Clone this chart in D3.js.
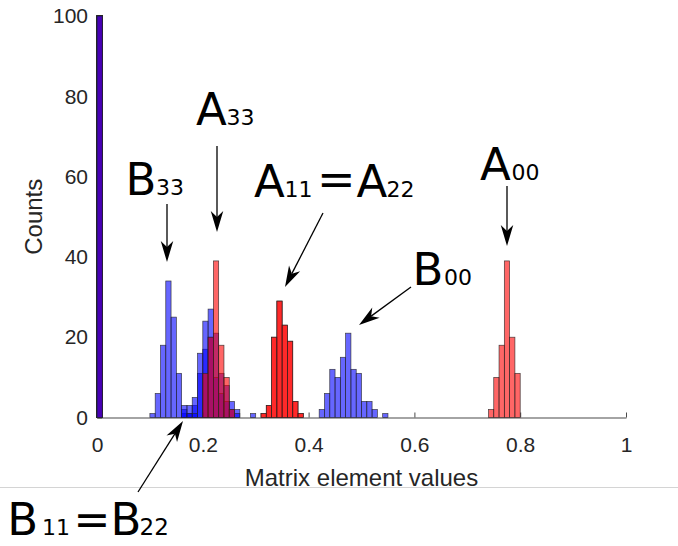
<!DOCTYPE html>
<html>
<head>
<meta charset="utf-8">
<script src="https://cdn.jsdelivr.net/npm/d3@7/dist/d3.min.js"></script>
<style>
  html, body { margin: 0; padding: 0; background: #fff; }
  svg { display: block; }
</style>
</head>
<body>
<script>
// ---------------- data ----------------
const binWidth = 0.01;
const xTicks = [0, 0.2, 0.4, 0.6, 0.8, 1];
const yTicks = [0, 20, 40, 60, 80, 100];
const xTickLabels = ["0", "0.2", "0.4", "0.6", "0.8", "1"];
const yTickLabels = ["0", "20", "40", "60", "80", "100"];

// off-diagonal elements: all samples fall in the first bin (value 0)
const offDiagStart = 0.0;
const offDiagCounts = [100];
const offDiagPerMatrix = 12;

const a00Start = 0.74;
const a00Counts = [2, 10, 18, 39, 20, 11];
const b00Start = 0.42;
const b00Counts = [2, 6, 12, 10, 15, 21, 12, 11, 4, 4, 2, 0, 1];
const a11Start = 0.31;
const a11Counts = [1, 3, 20, 29, 23, 19, 4, 1];
const a22Start = 0.31;
const a22Counts = [1, 3, 20, 29, 23, 19, 4, 1];
const b11Start = 0.16;
const b11Counts = [1, 1, 3, 11, 17, 20, 21, 11, 8, 4, 2, 0, 0, 1];
const b22Start = 0.16;
const b22Counts = [2, 3, 5, 16, 24, 27, 10, 6, 4, 2, 1];
const a33Start = 0.20;
const a33Counts = [11, 20, 39, 18, 10, 2];
const b33Start = 0.10;
const b33Counts = [1, 6, 18, 34, 25, 11, 3, 1, 1];

const colorA = "#ff0000";
const colorB = "#0000ff";

// ---------------- chart ----------------
const W = 678, H = 546;
const svg = d3.select("body").append("svg").attr("width", W).attr("height", H);

const x = d3.scaleLinear().domain([0, 1]).range([97, 626]);
const y = d3.scaleLinear().domain([0, 100]).range([417.5, 16]);

// separator line
svg.append("line").attr("x1", 0).attr("x2", W).attr("y1", 487.5).attr("y2", 487.5)
  .attr("stroke", "#d4d4d4").attr("stroke-width", 1);

// axes
const xAxis = svg.append("g").attr("transform", `translate(0,${y(0)})`)
  .call(d3.axisBottom(x).tickValues(xTicks).tickFormat((d, i) => xTickLabels[i])
    .tickSizeInner(-5).tickSizeOuter(0).tickPadding(19.6));
const yAxis = svg.append("g").attr("transform", `translate(${x(0)},0)`)
  .call(d3.axisLeft(y).tickValues(yTicks).tickFormat((d, i) => yTickLabels[i])
    .tickSizeInner(-5).tickSizeOuter(0).tickPadding(9));
[xAxis, yAxis].forEach(g => {
  g.selectAll("path.domain").attr("stroke", "#4a4a4a").attr("stroke-width", 1.1);
  g.selectAll(".tick line").attr("stroke", "#4a4a4a");
  g.selectAll(".tick text").attr("fill", "#262626")
    .style("font-family", "'Liberation Sans', Arial, sans-serif").style("font-size", "21px");
});

// series in plotting order
const series = [];
for (let k = 0; k < offDiagPerMatrix; k++) {
  series.push({ start: offDiagStart, counts: offDiagCounts, color: colorA });
  series.push({ start: offDiagStart, counts: offDiagCounts, color: colorB });
}
series.push({ start: a00Start, counts: a00Counts, color: colorA });
series.push({ start: b00Start, counts: b00Counts, color: colorB });
series.push({ start: a11Start, counts: a11Counts, color: colorA });
series.push({ start: b11Start, counts: b11Counts, color: colorB });
series.push({ start: a22Start, counts: a22Counts, color: colorA });
series.push({ start: b22Start, counts: b22Counts, color: colorB });
series.push({ start: a33Start, counts: a33Counts, color: colorA });
series.push({ start: b33Start, counts: b33Counts, color: colorB });

const barsG = svg.append("g");
series.forEach(s => {
  const bins = s.counts.map((c, i) => ({
    x0: s.start + i * binWidth, x1: s.start + (i + 1) * binWidth, c: Math.min(c, 100)
  })).filter(b => b.c > 0);
  barsG.append("g").selectAll("rect").data(bins).join("rect")
    .attr("x", b => x(b.x0))
    .attr("width", b => x(b.x1) - x(b.x0))
    .attr("y", b => y(b.c))
    .attr("height", b => y(0) - y(b.c))
    .attr("fill", s.color).attr("fill-opacity", 0.6)
    .attr("stroke", "#262626").attr("stroke-width", 0.7).attr("stroke-opacity", 0.85);
});

// axis labels
svg.append("text").attr("x", (x(0) + x(1)) / 2).attr("y", 486)
  .attr("text-anchor", "middle").attr("fill", "#262626")
  .style("font-family", "'Liberation Sans', Arial, sans-serif").style("font-size", "24px")
  .text("Matrix element values");
svg.append("text").attr("transform", `translate(41.5,${(y(0) + y(100)) / 2}) rotate(-90)`)
  .attr("text-anchor", "middle").attr("fill", "#262626")
  .style("font-family", "'Liberation Sans', Arial, sans-serif").style("font-size", "24px")
  .text("Counts");

// annotations
const annFont = "'DejaVu Sans', Verdana, sans-serif";
const annotations = [
  { y: 125, parts: [["A", 196, 45], ["33", 226.5, 22]] },
  { y: 195, parts: [["B", 125.6, 45], ["33", 156, 22]] },
  { y: 197, parts: [["A", 254, 45], ["11", 284.5, 22], ["=", 317, 46, -1.6], ["A", 356.5, 45], ["22", 386.5, 22]] },
  { y: 285, parts: [["B", 412.6, 45], ["00", 444, 22]] },
  { y: 180, parts: [["A", 480, 45], ["00", 511.5, 22]] },
  { y: 535, parts: [["B", 7.3, 45], ["11", 42, 22], ["=", 73.5, 44, 0], ["B", 110.6, 45], ["22", 139.5, 23]] }
];
annotations.forEach(a => {
  a.parts.forEach(p => {
    svg.append("text").attr("x", p[1]).attr("y", a.y + (p[3] || 0))
      .attr("fill", "#000").style("font-family", annFont).style("font-size", p[2] + "px")
      .text(p[0]);
  });
});

// arrows
const arrows = [
  { from: [167, 204], to: [167, 262] },
  { from: [217, 146], to: [217, 232] },
  { from: [323, 213], to: [285, 287] },
  { from: [411, 287], to: [359, 325] },
  { from: [507, 186], to: [507, 246] },
  { from: [138, 492], to: [183, 421] }
];
const headL = 21, headW = 12.5, notch = 6;
arrows.forEach(a => {
  const [x1, y1] = a.from, [x2, y2] = a.to;
  const len = Math.hypot(x2 - x1, y2 - y1);
  const ux = (x2 - x1) / len, uy = (y2 - y1) / len;
  const nx = -uy, ny = ux;
  svg.append("line").attr("x1", x1).attr("y1", y1)
    .attr("x2", x2 - ux * (headL - notch)).attr("y2", y2 - uy * (headL - notch))
    .attr("stroke", "#000").attr("stroke-width", 1.3);
  const pts = [
    [x2, y2],
    [x2 - ux * headL + nx * headW / 2, y2 - uy * headL + ny * headW / 2],
    [x2 - ux * (headL - notch), y2 - uy * (headL - notch)],
    [x2 - ux * headL - nx * headW / 2, y2 - uy * headL - ny * headW / 2]
  ];
  svg.append("path").attr("d", "M" + pts.map(p => p.join(",")).join("L") + "Z").attr("fill", "#000");
});
</script>
</body>
</html>
